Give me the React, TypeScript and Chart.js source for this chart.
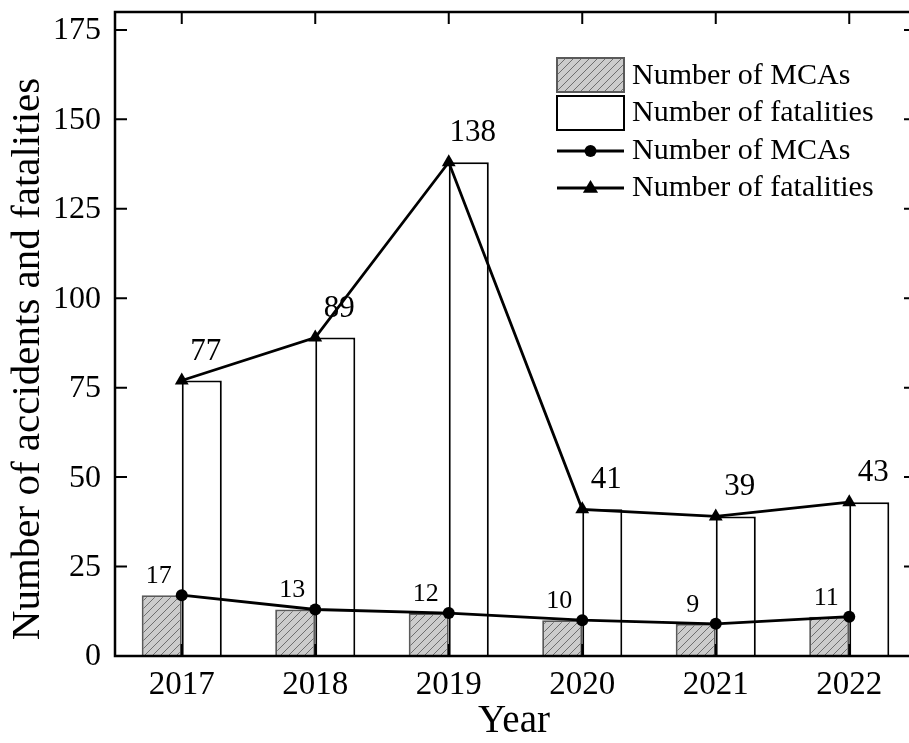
import React, { useEffect, useRef } from 'react';
import { Chart, registerables } from 'chart.js';

Chart.register(...registerables);

const years = ['2017', '2018', '2019', '2020', '2021', '2022'];
const mcas = [17, 13, 12, 10, 9, 11];
const fatalities = [77, 89, 138, 41, 39, 43];
const yTicks = [0, 25, 50, 75, 100, 125, 150, 175];
const seriesNames = ['Number of MCAs', 'Number of fatalities'];
const xTitle = 'Year';
const yTitle = 'Number of accidents and fatalities';

const FONT = '"Liberation Serif", "Times New Roman", serif';

function makeHatch(ctx: CanvasRenderingContext2D): CanvasPattern {
  const c = document.createElement('canvas');
  c.width = 8;
  c.height = 8;
  const g = c.getContext('2d')!;
  g.fillStyle = '#cccccc';
  g.fillRect(0, 0, 8, 8);
  g.strokeStyle = '#6e6e6e';
  g.lineWidth = 1;
  g.beginPath();
  g.moveTo(0, 8);
  g.lineTo(8, 0);
  g.moveTo(-2, 2);
  g.lineTo(2, -2);
  g.moveTo(6, 10);
  g.lineTo(10, 6);
  g.stroke();
  return ctx.createPattern(c, 'repeat')!;
}

export default function App() {
  const ref = useRef<HTMLCanvasElement>(null);

  useEffect(() => {
    const canvas = ref.current!;
    const ctx = canvas.getContext('2d')!;
    const hatch = makeHatch(ctx);

    const drawTriangle = (g: CanvasRenderingContext2D, x: number, y: number, r: number) => {
      g.beginPath();
      g.moveTo(x, y - r);
      g.lineTo(x + r * 0.95, y + r * 0.6);
      g.lineTo(x - r * 0.95, y + r * 0.6);
      g.closePath();
      g.fill();
    };

    const decor = {
      id: 'decor',
      afterDraw(chart: any) {
        const g: CanvasRenderingContext2D = chart.ctx;
        const { left, right, top, bottom } = chart.chartArea;
        const xs = chart.scales.x;
        const ys = chart.scales.y;
        g.save();
        // frame
        g.strokeStyle = '#000';
        g.lineWidth = 2.5;
        g.strokeRect(left, top, right - left, bottom - top);
        // ticks
        g.lineWidth = 2;
        g.beginPath();
        yTicks.forEach((v) => {
          const y = ys.getPixelForValue(v);
          g.moveTo(left, y);
          g.lineTo(left + 12, y);
          g.moveTo(right, y);
          g.lineTo(right - 12, y);
        });
        years.forEach((_, i) => {
          const x = xs.getPixelForValue(i);
          g.moveTo(x, top);
          g.lineTo(x, top + 12);
          g.moveTo(x, bottom);
          g.lineTo(x, bottom - 12);
        });
        g.stroke();

        // tick labels
        g.fillStyle = '#000';
        g.font = `32px ${FONT}`;
        g.textAlign = 'right';
        g.textBaseline = 'middle';
        yTicks.forEach((v) => {
          g.fillText(String(v), left - 14, ys.getPixelForValue(v) + 1);
        });
        g.font = `33px ${FONT}`;
        g.textAlign = 'center';
        years.forEach((yr, i) => {
          g.fillText(yr, xs.getPixelForValue(i), bottom + 29);
        });

        // data labels
        g.textAlign = 'center';
        g.textBaseline = 'alphabetic';
        const m0 = chart.getDatasetMeta(0).data;
        const m1 = chart.getDatasetMeta(1).data;
        g.font = `26px ${FONT}`;
        m0.forEach((b: any, i: number) => {
          g.fillText(String(mcas[i]), b.x - 3, b.y - 12);
        });
        g.font = `31px ${FONT}`;
        m1.forEach((b: any, i: number) => {
          g.fillText(String(fatalities[i]), b.x + 4, b.y - 21);
        });

        // axis titles
        g.font = `39px ${FONT}`;
        g.textBaseline = 'middle';
        g.fillText(xTitle, 514, 722);
        g.save();
        g.translate(28, 359);
        g.rotate(-Math.PI / 2);
        g.font = `41px ${FONT}`;
        g.fillText(yTitle, 0, 0);
        g.restore();

        // legend
        const bx0 = 557;
        const bx1 = 624;
        g.fillStyle = hatch;
        g.fillRect(bx0, 58, bx1 - bx0, 34);
        g.strokeStyle = '#5a5a5a';
        g.lineWidth = 2;
        g.strokeRect(bx0, 58, bx1 - bx0, 34);
        g.fillStyle = '#fff';
        g.fillRect(bx0, 96, bx1 - bx0, 34);
        g.strokeStyle = '#000';
        g.lineWidth = 2;
        g.strokeRect(bx0, 96, bx1 - bx0, 34);
        g.lineWidth = 2.8;
        g.beginPath();
        g.moveTo(bx0, 151);
        g.lineTo(bx1, 151);
        g.moveTo(bx0, 188);
        g.lineTo(bx1, 188);
        g.stroke();
        g.fillStyle = '#000';
        g.beginPath();
        g.arc((bx0 + bx1) / 2, 151, 6, 0, Math.PI * 2);
        g.fill();
        drawTriangle(g, (bx0 + bx1) / 2, 188, 8);
        g.font = `30px ${FONT}`;
        g.textAlign = 'left';
        g.textBaseline = 'middle';
        const lx = 632;
        g.fillText(seriesNames[0], lx, 76);
        g.fillText(seriesNames[1], lx, 113);
        g.fillText(seriesNames[0], lx, 151);
        g.fillText(seriesNames[1], lx, 188);
        g.restore();
      },
    };

    const chart = new Chart(canvas, {
      type: 'bar',
      data: {
        labels: years,
        datasets: [
          {
            type: 'bar',
            label: seriesNames[0],
            data: mcas,
            backgroundColor: hatch,
            borderColor: '#5a5a5a',
            borderWidth: 2,
            order: 2,
          },
          {
            type: 'bar',
            label: seriesNames[1],
            data: fatalities,
            backgroundColor: '#ffffff',
            borderColor: '#000000',
            borderWidth: 2,
            order: 2,
          },
          {
            type: 'line',
            label: seriesNames[0],
            data: mcas,
            borderColor: '#000',
            backgroundColor: '#000',
            borderWidth: 2.8,
            pointStyle: 'circle',
            pointRadius: 6,
            pointBorderWidth: 0,
            tension: 0,
            order: 0,
          },
          {
            type: 'line',
            label: seriesNames[1],
            data: fatalities,
            borderColor: '#000',
            backgroundColor: '#000',
            borderWidth: 2.8,
            pointStyle: 'triangle',
            pointRadius: 8,
            pointBorderWidth: 0,
            tension: 0,
            order: 0,
          },
        ] as any,
      },
      options: {
        animation: false,
        responsive: false,
        maintainAspectRatio: false,
        layout: { autoPadding: false, padding: { left: 0, top: 12, right: 0, bottom: 0 } },
        datasets: {
          bar: { categoryPercentage: 0.6, barPercentage: 1.0 },
        } as any,
        plugins: {
          legend: { display: false },
          tooltip: { enabled: false },
        },
        scales: {
          x: {
            grid: { display: false, drawTicks: false },
            border: { display: false },
            ticks: { display: false },
            afterFit(scale: any) {
              scale.height = 87;
            },
          },
          y: {
            min: 0,
            max: 180,
            grid: { display: false, drawTicks: false },
            border: { display: false },
            ticks: { display: false },
            afterBuildTicks(scale: any) {
              scale.ticks = yTicks.map((v) => ({ value: v }));
            },
            afterFit(scale: any) {
              scale.width = 115;
            },
          },
        },
      },
      plugins: [decor],
    });

    return () => chart.destroy();
  }, []);

  return (
    <div
      style={{
        position: 'fixed',
        left: 0,
        top: 0,
        width: 909,
        height: 743,
        overflow: 'hidden',
        background: '#fff',
      }}
    >
      <canvas ref={ref} width={916} height={743} style={{ display: 'block' }} />
    </div>
  );
}
